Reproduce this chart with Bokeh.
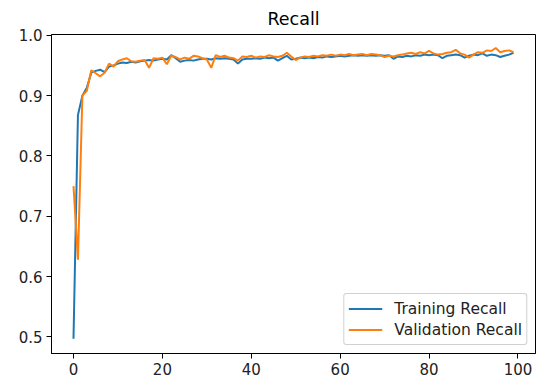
from bokeh.plotting import figure
from bokeh.models import Range1d, FixedTicker, PrintfTickFormatter, Legend, LegendItem
from bokeh.embed import file_html
from bokeh.resources import INLINE

epochs = list(range(100))

training_recall = [
    0.497, 0.868, 0.900, 0.913, 0.938, 0.941, 0.943, 0.939, 0.948, 0.950,
    0.953, 0.955, 0.954, 0.956, 0.955, 0.957, 0.958, 0.959, 0.958, 0.960,
    0.961, 0.960, 0.967, 0.962, 0.956, 0.958, 0.959, 0.958, 0.960, 0.961,
    0.961, 0.960, 0.962, 0.961, 0.962, 0.961, 0.960, 0.953, 0.960, 0.961,
    0.961, 0.962, 0.961, 0.963, 0.962, 0.963, 0.958, 0.962, 0.966, 0.960,
    0.961, 0.963, 0.962, 0.963, 0.962, 0.964, 0.963, 0.965, 0.964, 0.965,
    0.966, 0.965, 0.966, 0.967, 0.966, 0.967, 0.966, 0.967, 0.966, 0.967,
    0.966, 0.967, 0.961, 0.965, 0.964, 0.966, 0.965, 0.967, 0.966, 0.968,
    0.967, 0.968, 0.967, 0.962, 0.966, 0.967, 0.968, 0.967, 0.963, 0.966,
    0.968, 0.967, 0.970, 0.966, 0.968, 0.967, 0.964, 0.966, 0.968, 0.971,
]

validation_recall = [
    0.750, 0.628, 0.900, 0.908, 0.942, 0.937, 0.932, 0.938, 0.953, 0.948,
    0.957, 0.960, 0.962, 0.957, 0.956, 0.958, 0.959, 0.946, 0.962, 0.961,
    0.963, 0.952, 0.966, 0.964, 0.960, 0.963, 0.961, 0.966, 0.965, 0.962,
    0.960, 0.946, 0.967, 0.964, 0.966, 0.963, 0.962, 0.958, 0.965, 0.964,
    0.966, 0.963, 0.965, 0.964, 0.967, 0.965, 0.964, 0.966, 0.971, 0.965,
    0.959, 0.963, 0.965, 0.964, 0.966, 0.965, 0.967, 0.966, 0.968, 0.966,
    0.968, 0.967, 0.969, 0.967, 0.968, 0.969, 0.967, 0.969, 0.968, 0.967,
    0.964, 0.966, 0.965, 0.967, 0.968, 0.970, 0.971, 0.969, 0.972, 0.970,
    0.974, 0.970, 0.968, 0.969, 0.971, 0.972, 0.976, 0.970, 0.968, 0.963,
    0.968, 0.972, 0.971, 0.975, 0.974, 0.979, 0.972, 0.974, 0.975, 0.972,
]

x_ticks = [0, 20, 40, 60, 80, 100]
y_ticks = [0.5, 0.6, 0.7, 0.8, 0.9, 1.0]

FONT = "DejaVu Sans"

p = figure(width=537, height=385, output_backend="svg", toolbar_location=None,
           x_range=Range1d(-4.95, 103.95), y_range=Range1d(0.4726, 1.0013),
           min_border_left=51, min_border_right=2, min_border_top=34,
           min_border_bottom=32)

p.title.text = "Recall"
p.title.align = "center"
p.title.text_font = FONT
p.title.text_font_size = "17.5px"
p.title.text_font_style = "normal"
p.title.text_color = "black"
p.title.standoff = 12

p.xgrid.visible = False
p.ygrid.visible = False
p.outline_line_color = "black"
p.outline_line_width = 1
p.background_fill_color = "white"
p.border_fill_color = "white"

for ax in (p.xaxis[0], p.yaxis[0]):
    ax.major_tick_in = 0
    ax.major_tick_out = 5
    ax.minor_tick_in = 0
    ax.minor_tick_out = 0
    ax.major_label_text_font = FONT
    ax.major_label_text_font_size = "15px"
    ax.major_label_text_color = "#222222"
    ax.axis_line_color = "black"
    ax.major_tick_line_color = "black"
    ax.major_label_standoff = 4

p.xaxis.ticker = FixedTicker(ticks=x_ticks)
p.yaxis.ticker = FixedTicker(ticks=y_ticks)
p.yaxis.formatter = PrintfTickFormatter(format="%.1f")

r_train = p.line(epochs, training_recall, line_color="#1f77b4", line_width=2)
r_val = p.line(epochs, validation_recall, line_color="#ff7f0e", line_width=2)

legend = Legend(items=[LegendItem(label="Training Recall", renderers=[r_train]),
                       LegendItem(label="Validation Recall", renderers=[r_val])],
                location="bottom_right")
legend.label_text_font = FONT
legend.label_text_font_size = "15.5px"
legend.label_text_color = "#222222"
legend.border_line_color = "#cccccc"
legend.border_line_alpha = 0.9
legend.border_radius = 3
legend.background_fill_alpha = 0.8
legend.glyph_width = 34
legend.glyph_height = 21
legend.label_standoff = 12
legend.spacing = 0
legend.padding = 4
legend.margin = 8
p.add_layout(legend)

open("out.html", "w").write(file_html(p, INLINE))
